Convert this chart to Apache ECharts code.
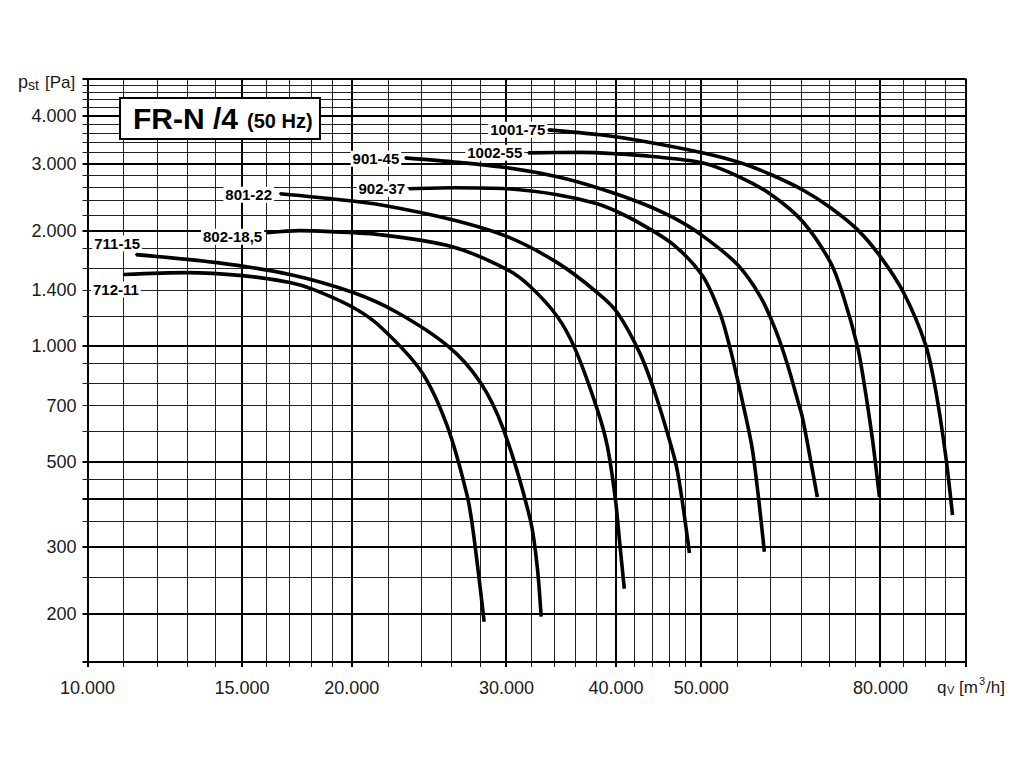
<!DOCTYPE html>
<html><head><meta charset="utf-8">
<script src="https://cdn.jsdelivr.net/npm/echarts@6/dist/echarts.min.js"></script>
<style>html,body{margin:0;padding:0;background:#fff}#c{width:1024px;height:768px}</style>
</head><body><div id="c"></div>
<script>
// ---- axis ranges & grid values ----
const X_MIN = 10000, X_MAX = 100000, Y_MIN = 150, Y_MAX = 5000;
const xGridValues = [10000,11000,12000,13000,14000,15000,16000,17000,18000,19000,20000,22000,24000,26000,28000,30000,32000,34000,36000,38000,40000,42000,44000,46000,48000,50000,55000,60000,65000,70000,75000,80000,85000,90000,95000,100000];
const xMajorValues = [10000,15000,20000,30000,40000,50000,80000,100000];
const xTickLabels = [10000,15000,20000,30000,40000,50000,80000];
const yGridValues = [150,200,250,300,350,400,450,500,600,700,800,900,1000,1200,1400,1600,1800,2000,2200,2400,2600,2800,3000,3200,3400,3600,3800,4000,4200,4400,4600,4800,5000];
const yMajorValues = [150,200,300,400,500,1000,2000,3000,4000,5000];
const yTickLabels = [200,300,500,700,1000,1400,2000,3000,4000];

// ---- curves: flow qV [m3/h] and static pressure pst [Pa] ----
const q_711_15 = [11360,14050,17000,20070,22530,25760,28010,29760,31930,32520,32860];
const p_711_15 = [1736,1654,1540,1382,1226,1000,806,608,354,267,197];
const q_712_11 = [11000,12980,15000,17000,18070,20070,21540,23990,25690,27070,27500,28300];
const p_712_11 = [1540,1558,1530,1468,1408,1263,1127,861,619,407,328,191];
const q_802_185 = [16020,17460,18890,21540,26030,30070,31930,34280,35940,38070,39090,39920,40390,40870];
const p_802_185 = [1981,2005,1993,1957,1821,1586,1433,1197,982,685,549,400,305,233];
const q_801_22 = [16570,19410,21540,26030,30070,34280,38070,40120,42630,44340,45870,46850,47590,48480];
const p_801_22 = [2503,2415,2343,2141,1934,1654,1382,1226,953,750,583,487,393,289];
const q_902_37 = [23250,26030,30070,34280,38070,40120,42630,46480,50150,52580,53980,54980,56290,57180,58080,59010];
const p_902_37 = [2579,2595,2579,2488,2357,2246,2091,1843,1530,1212,982,821,645,539,407,291];
const q_901_45 = [23010,26030,30070,34280,38070,42630,46480,50150,54980,58390,60730,62680,64340,65200,66580,67810];
const p_901_45 = [3105,3032,2925,2772,2595,2371,2167,1946,1635,1349,1107,898,728,653,508,404];
const q_1002_55 = [31770,36410,40120,43750,50150,55400,60090,65200,70200,72610,75320,76520,78340,79800];
const p_1002_55 = [3200,3210,3181,3134,3014,2763,2488,2122,1654,1349,1000,821,573,404];
const q_1001_75 = [33480,38370,42630,50150,55400,60090,65200,70200,75320,80000,85000,90030,92430,94890,96650];
const p_1001_75 = [3674,3566,3440,3200,3014,2805,2563,2301,2017,1715,1382,1012,773,523,363];

const curveNames = ['711-15','712-11','802-18,5','801-22','902-37','901-45','1002-55','1001-75'];
const curveQ = [q_711_15,q_712_11,q_802_185,q_801_22,q_902_37,q_901_45,q_1002_55,q_1001_75];
const curveP = [p_711_15,p_712_11,p_802_185,p_801_22,p_902_37,p_901_45,p_1002_55,p_1001_75];
// label placement (style only): offset of label's right/middle from curve start
const labelOffsets = [[6,-11],[17,15],[-3,4],[-6,1],[-2,0],[-4,1],[-4,0],[-1,0]];

const FONT = '"Liberation Sans", Arial, Helvetica, sans-serif';
const fmt = n => String(n).replace(/\B(?=(\d{3})+(?!\d))/g, '.');

const chart = echarts.init(document.getElementById('c'), null, {renderer: 'svg', width: 1024, height: 768});

const hiddenAxis = {axisLine:{show:false}, axisTick:{show:false}, axisLabel:{show:false}, splitLine:{show:false}};

const xGridSeries = {
  type: 'custom', silent: true, z: 1, clip: false,
  data: xGridValues.map(v => [v, Y_MIN]),
  renderItem: function (params, api) {
    const v = api.value(0);
    const pb = api.coord([v, Y_MIN]);
    const pt = api.coord([v, Y_MAX]);
    const major = xMajorValues.indexOf(v) >= 0;
    const x = major ? Math.round(pb[0]) : Math.round(pb[0] - 0.5) + 0.5;
    const children = [{
      type: 'line', shape: {x1: x, y1: pt[1], x2: x, y2: pb[1] + 5},
      style: {stroke: major ? '#000' : '#222', lineWidth: major ? 2 : 1}
    }];
    if (xTickLabels.indexOf(v) >= 0) {
      children.push({type: 'text', x: pb[0], y: pb[1] + 26,
        style: {text: fmt(v), font: '18px ' + FONT, fill: '#1a1a1a', align: 'center', verticalAlign: 'middle'}});
    }
    return {type: 'group', children: children};
  }
};

const yGridSeries = {
  type: 'custom', silent: true, z: 1, clip: false,
  data: yGridValues.map(v => [X_MIN, v]),
  renderItem: function (params, api) {
    const v = api.value(1);
    const pl = api.coord([X_MIN, v]);
    const pr = api.coord([X_MAX, v]);
    const major = yMajorValues.indexOf(v) >= 0;
    const y = major ? Math.round(pl[1]) : Math.round(pl[1] - 0.5) + 0.5;
    const children = [{
      type: 'line', shape: {x1: pl[0] - 5, y1: y, x2: pr[0], y2: y},
      style: {stroke: major ? '#000' : '#222', lineWidth: major ? 2 : 1}
    }];
    if (yTickLabels.indexOf(v) >= 0) {
      children.push({type: 'text', x: pl[0] - 11, y: pl[1],
        style: {text: fmt(v), font: '18px ' + FONT, fill: '#1a1a1a', align: 'right', verticalAlign: 'middle'}});
    }
    return {type: 'group', children: children};
  }
};

const curveSeries = curveNames.map((name, k) => ({
  type: 'line', name: name, z: 3, clip: false,
  symbol: 'none', smooth: 0.3,
  lineStyle: {color: '#000', width: 3.6},
  itemStyle: {color: '#000'},
  data: curveQ[k].map((q, i) => i === 0 ? {
    value: [q, curveP[k][i]], symbol: 'circle', symbolSize: 2,
    label: {show: true, position: [labelOffsets[k][0] + 1, labelOffsets[k][1] + 1], align: 'right', verticalAlign: 'middle',
      formatter: name, fontFamily: FONT, fontWeight: 'bold', fontSize: 15, color: '#000',
      backgroundColor: '#fff', padding: [1, 2, 0, 2]}
  } : [q, curveP[k][i]])
}));

const option = {
  animation: false,
  backgroundColor: '#fff',
  grid: {left: 87.5, right: 58.5, top: 78.6, bottom: 106, containLabel: false},
  xAxis: Object.assign({type: 'log', logBase: 10, min: X_MIN, max: X_MAX}, hiddenAxis),
  yAxis: Object.assign({type: 'log', logBase: 10, min: Y_MIN, max: Y_MAX}, hiddenAxis),
  series: [xGridSeries, yGridSeries].concat(curveSeries),
  graphic: [
    {type: 'rect', z: 10, shape: {x: 120, y: 98, width: 200, height: 41},
      style: {fill: '#fff', stroke: '#000', lineWidth: 2}},
    {type: 'text', z: 11, x: 133, y: 118, style: {text: 'FR-N /4', font: 'bold 30px ' + FONT, fill: '#000', align: 'left', verticalAlign: 'middle'}},
    {type: 'text', z: 11, x: 247, y: 121, style: {text: '(50 Hz)', font: 'bold 20px ' + FONT, fill: '#000', align: 'left', verticalAlign: 'middle'}},
    // y axis name: p_st [Pa]
    {type: 'text', z: 11, x: 18, y: 82, style: {text: 'p', font: '18px ' + FONT, fill: '#1a1a1a', align: 'left', verticalAlign: 'middle'}},
    {type: 'text', z: 11, x: 28, y: 85, style: {text: 'st', font: '14px ' + FONT, fill: '#1a1a1a', align: 'left', verticalAlign: 'middle'}},
    {type: 'text', z: 11, x: 45, y: 82, style: {text: '[Pa]', font: '17px ' + FONT, fill: '#1a1a1a', align: 'left', verticalAlign: 'middle'}},
    // x axis name: q_V [m3/h]
    {type: 'text', z: 11, x: 937, y: 687, style: {text: 'q', font: '17px ' + FONT, fill: '#1a1a1a', align: 'left', verticalAlign: 'middle'}},
    {type: 'text', z: 11, x: 947, y: 690, style: {text: 'V', font: '11px ' + FONT, fill: '#1a1a1a', align: 'left', verticalAlign: 'middle'}},
    {type: 'text', z: 11, x: 959, y: 687, style: {text: '[m', font: '17px ' + FONT, fill: '#1a1a1a', align: 'left', verticalAlign: 'middle'}},
    {type: 'text', z: 11, x: 979, y: 681, style: {text: '3', font: '11px ' + FONT, fill: '#1a1a1a', align: 'left', verticalAlign: 'middle'}},
    {type: 'text', z: 11, x: 986, y: 687, style: {text: '/h]', font: '17px ' + FONT, fill: '#1a1a1a', align: 'left', verticalAlign: 'middle'}}
  ]
};
chart.setOption(option);
</script>
</body></html>
